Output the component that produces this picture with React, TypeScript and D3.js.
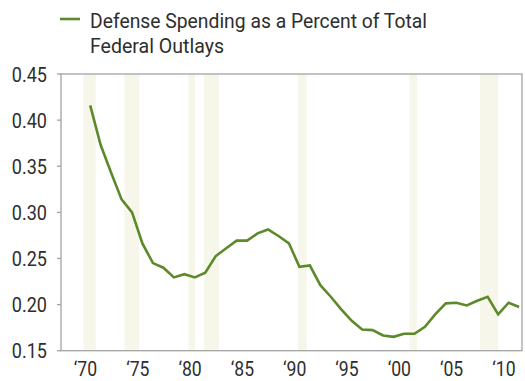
import React from "react";
import * as d3 from "d3";

const years: number[] = d3.range(1970, 2012);
const defenseShare: number[] = [
  0.416, 0.373, 0.343, 0.314, 0.300, 0.266, 0.245, 0.240, 0.2295, 0.233,
  0.2295, 0.2345, 0.2526, 0.261, 0.2693, 0.2693, 0.2772, 0.2815, 0.2744, 0.2664,
  0.241, 0.2425, 0.221, 0.2085, 0.1948, 0.1824, 0.173, 0.1723, 0.1665, 0.165,
  0.1683, 0.1683, 0.176, 0.1897, 0.2013, 0.202, 0.1991, 0.2041, 0.2085, 0.1894,
  0.202, 0.1973,
];
const recessionStarts: number[] = [1969.79, 1973.71, 1979.83, 1981.33, 1990.29, 2000.96, 2007.71];
const recessionEnds: number[] = [1970.98, 1975.14, 1980.47, 1982.76, 1991.15, 2001.69, 2009.46];
const yTicks: number[] = [0.15, 0.2, 0.25, 0.3, 0.35, 0.4, 0.45];
const xTicks: number[] = [1970, 1975, 1980, 1985, 1990, 1995, 2000, 2005, 2010];
const legendLines: string[] = ["Defense Spending as a Percent of Total", "Federal Outlays"];
const legendWidths: number[] = [337, 134];

const FONT = "Roboto, 'Liberation Sans', sans-serif";

function CText(props: { x: number; y: number; anchor: string; sx: number; size: number; fill: string; children: React.ReactNode }) {
  return (
    <text
      transform={`translate(${props.x},${props.y}) scale(${props.sx},1)`}
      textAnchor={props.anchor}
      fontSize={props.size}
      fill={props.fill}
    >
      {props.children}
    </text>
  );
}

export default function App() {
  const W = 525, H = 381;
  const left = 61, right = 522, top = 74, bottom = 350.7;
  const x = d3.scaleLinear().domain([1970, 2010]).range([85.5, 503.9]);
  const y = d3.scaleLinear().domain([0.15, 0.45]).range([bottom, top]);
  const pts = years.map((yr, i) => [x(yr + 0.45), y(defenseShare[i])] as [number, number]);
  const line = d3.line<[number, number]>()(pts) || "";
  const textColor = "#2e2e2e";
  const green = "#5c8a2a";
  const axisColor = "#a3a3a3";

  return (
    <svg width={W} height={H} style={{ position: "absolute", left: 0, top: 0 }} fontFamily={FONT}>
      <rect x={0} y={0} width={W} height={H} fill="#ffffff" />
      {recessionStarts.map((s, i) => (
        <rect key={i} x={x(s)} y={top} width={x(recessionEnds[i]) - x(s)} height={bottom - top} fill="#f6f6ea" />
      ))}
      <rect x={left} y={top} width={right - left} height={bottom - top} fill="none" stroke={axisColor} strokeWidth={1.3} />
      {yTicks.map((t) => (
        <g key={t}>
          <line x1={left - 4} x2={left} y1={y(t)} y2={y(t)} stroke={axisColor} strokeWidth={1.3} />
          <CText x={47} y={y(t) + 7.5} anchor="end" sx={0.86} size={21} fill={textColor}>
            {d3.format(".2f")(t)}
          </CText>
        </g>
      ))}
      {xTicks.map((t) => (
        <CText key={t} x={x(t)} y={376.4} anchor="middle" sx={0.86} size={20.5} fill={textColor}>
          {"\u2018" + String(t % 100).padStart(2, "0")}
        </CText>
      ))}
      <path d={line} fill="none" stroke={green} strokeWidth={2.6} strokeLinejoin="miter" />
      <line x1={60} x2={80} y1={19} y2={19} stroke={green} strokeWidth={2.6} />
      {legendLines.map((s, i) => (
        <text
          key={i}
          x={90}
          y={28 + i * 24.7}
          fontSize={20}
          fill={textColor}
          textLength={legendWidths[i]}
          lengthAdjust="spacingAndGlyphs"
        >
          {s}
        </text>
      ))}
    </svg>
  );
}
